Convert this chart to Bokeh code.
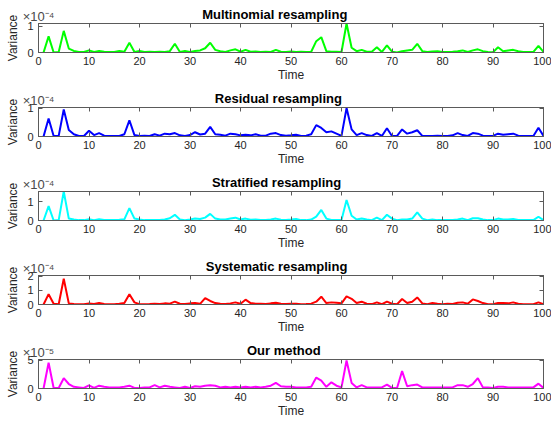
from bokeh.plotting import figure
from bokeh.layouts import column
from bokeh.models import Range1d, FixedTicker, LinearAxis, CustomJSTickFormatter
from bokeh.embed import file_html
from bokeh.resources import INLINE

time = list(range(1, 101))

# values in units of 1e-4 (first four panels) and 1e-5 (last panel)
multinomial = [0, 0.61, 0.0, 0.02, 0.82, 0.15, 0.06, 0.02, 0.02, 0.08,
               0.02, 0.06, 0.03, 0.02, 0.02, 0.06, 0.03, 0.37, 0.02, 0.06,
               0.02, 0.03, 0.02, 0.03, 0.02, 0.05, 0.33, 0.02, 0.06, 0.02,
               0.06, 0.08, 0.16, 0.37, 0.1, 0.05, 0.02, 0.08, 0.12, 0.03,
               0.1, 0.03, 0.04, 0.02, 0.03, 0.02, 0.1, 0.03, 0.02, 0.04,
               0.02, 0.03, 0.02, 0.03, 0.43, 0.58, 0.05, 0.03, 0.03, 0.02,
               1.1, 0.18, 0.05, 0.1, 0.03, 0.03, 0.2, 0.02, 0.27, 0.03,
               0.0, 0.05, 0.08, 0.1, 0.33, 0.05, 0.02, 0.04, 0.05, 0.02,
               0.02, 0.03, 0.05, 0.08, 0.02, 0.08, 0.12, 0.05, 0.02, 0.01,
               0.2, 0.05, 0.08, 0.1, 0.05, 0.02, 0.02, 0.02, 0.25, 0.02]
residual = [0, 0.63, 0.02, 0.02, 0.95, 0.23, 0.08, 0.02, 0.02, 0.2,
            0.05, 0.12, 0.03, 0.02, 0.02, 0.02, 0.08, 0.57, 0.05, 0.02,
            0.03, 0.02, 0.08, 0.03, 0.1, 0.08, 0.12, 0.04, 0.02, 0.05,
            0.15, 0.07, 0.1, 0.34, 0.08, 0.06, 0.03, 0.1, 0.08, 0.04,
            0.06, 0.04, 0.08, 0.03, 0.03, 0.1, 0.12, 0.05, 0.03, 0.04,
            0.06, 0.02, 0.03, 0.08, 0.4, 0.3, 0.15, 0.18, 0.1, 0.02,
            1.0, 0.25, 0.05, 0.12, 0.05, 0.02, 0.12, 0.02, 0.29, 0.02,
            0.02, 0.25, 0.1, 0.15, 0.22, 0.02, 0.02, 0.02, 0.03, 0.02,
            0.02, 0.04, 0.12, 0.05, 0.02, 0.12, 0.1, 0.03, 0.02, 0.02,
            0.1, 0.06, 0.08, 0.1, 0.03, 0.02, 0.02, 0.02, 0.31, 0.02]
stratified = [0, 0.76, 0.0, 0.02, 1.53, 0.1, 0.05, 0.02, 0.02, 0.06,
              0.02, 0.06, 0.03, 0.03, 0.03, 0.04, 0.06, 0.65, 0.1, 0.05,
              0.02, 0.02, 0.02, 0.03, 0.05, 0.12, 0.3, 0.05, 0.02, 0.05,
              0.1, 0.08, 0.15, 0.35, 0.1, 0.05, 0.05, 0.1, 0.15, 0.05,
              0.1, 0.04, 0.05, 0.03, 0.03, 0.05, 0.1, 0.04, 0.03, 0.05,
              0.08, 0.02, 0.02, 0.05, 0.2, 0.56, 0.1, 0.03, 0.02, 0.02,
              1.08, 0.25, 0.05, 0.1, 0.05, 0.02, 0.15, 0.02, 0.3, 0.1,
              0.02, 0.05, 0.05, 0.1, 0.43, 0.1, 0.02, 0.05, 0.02, 0.02,
              0.02, 0.03, 0.05, 0.1, 0.02, 0.12, 0.12, 0.05, 0.02, 0.02,
              0.1, 0.05, 0.05, 0.08, 0.03, 0.02, 0.02, 0.02, 0.2, 0.02]
systematic = [0, 0.73, 0.05, 0.02, 1.82, 0.08, 0.03, 0.02, 0.02, 0.08,
              0.03, 0.1, 0.03, 0.02, 0.02, 0.05, 0.1, 0.73, 0.15, 0.02,
              0.02, 0.03, 0.05, 0.03, 0.08, 0.06, 0.2, 0.05, 0.03, 0.08,
              0.1, 0.05, 0.45, 0.25, 0.1, 0.05, 0.03, 0.08, 0.15, 0.05,
              0.34, 0.1, 0.05, 0.05, 0.03, 0.08, 0.12, 0.05, 0.03, 0.05,
              0.06, 0.02, 0.03, 0.06, 0.2, 0.55, 0.1, 0.15, 0.12, 0.08,
              0.57, 0.4, 0.1, 0.2, 0.05, 0.03, 0.15, 0.02, 0.2, 0.05,
              0.02, 0.39, 0.1, 0.2, 0.5, 0.08, 0.02, 0.1, 0.05, 0.02,
              0.05, 0.03, 0.12, 0.15, 0.05, 0.36, 0.25, 0.1, 0.02, 0.02,
              0.1, 0.1, 0.08, 0.15, 0.05, 0.02, 0.02, 0.02, 0.15, 0.02]
our_method = [0, 4.6, 0.1, 0.1, 1.84, 0.8, 0.3, 0.2, 0.1, 0.57,
              0.1, 0.5, 0.3, 0.2, 0.2, 0.2, 0.3, 0.5, 0.1, 0.1,
              0.2, 0.2, 0.6, 0.2, 0.5, 0.3, 0.2, 0.1, 0.3, 0.1,
              0.4, 0.3, 0.5, 0.6, 0.5, 0.2, 0.3, 0.2, 0.3, 0.2,
              0.3, 0.2, 0.3, 0.2, 0.3, 0.5, 1.0, 0.4, 0.3, 0.3,
              0.2, 0.2, 0.2, 0.3, 1.95, 1.4, 0.3, 1.1, 0.5, 0.2,
              5.0, 1.0, 0.2, 0.6, 0.2, 0.2, 0.2, 0.2, 0.69, 0.1,
              0.1, 3.1, 0.4, 0.6, 0.7, 0.2, 0.2, 0.2, 0.2, 0.2,
              0.2, 0.2, 0.6, 0.6, 0.3, 0.8, 1.84, 0.2, 0.2, 0.1,
              0.3, 0.3, 0.2, 0.2, 0.2, 0.2, 0.2, 0.2, 0.86, 0.1]

titles = ["Multinomial resampling", "Residual resampling", "Stratified resampling",
          "Systematic resampling", "Our method"]
multipliers = ["×10⁻⁴", "×10⁻⁴", "×10⁻⁴", "×10⁻⁴", "×10⁻⁵"]
x_ticks = [0, 10, 20, 30, 40, 50, 60, 70, 80, 90, 100]
y_ticks = [[0, 1], [0, 1], [0, 1], [0, 1, 2], [0, 5]]
y_max = [1.1, 1.02, 1.53, 2.05, 5.17]
title_pad = [9, 7, 8, 8, 4]   # trailing no-break spaces: nudge each centred title left
colors = ["#00ff00", "#0000ff", "#00ffff", "#ff0000", "#ff00ff"]
series = [multinomial, residual, stratified, systematic, our_method]

FONT = "Liberation Sans"
AX = "#5a5a5a"
TXT = "#262626"


def blank_formatter():
    return CustomJSTickFormatter(code="return ''")


figs = []
for i in range(5):
    p = figure(width=551, height=84, output_backend="svg", toolbar_location=None,
               x_range=Range1d(0, 100), y_range=Range1d(0, y_max[i]),
               min_border_left=38, min_border_right=8, min_border_top=23, min_border_bottom=31)
    p.background_fill_color = "white"
    p.border_fill_color = "white"
    p.outline_line_color = AX
    p.xgrid.visible = False
    p.ygrid.visible = False
    p.line(time, series[i], color=colors[i], line_width=2)

    xa = p.xaxis[0]
    xa.ticker = FixedTicker(ticks=x_ticks)
    xa.axis_label = "Time"
    ya = p.yaxis[0]
    ya.ticker = FixedTicker(ticks=y_ticks[i])
    ya.axis_label = "Variance"
    for ax in (xa, ya):
        ax.axis_line_color = AX
        ax.major_tick_line_color = AX
        ax.major_tick_in = 4
        ax.major_tick_out = 0
        ax.minor_tick_line_color = None
        ax.major_label_text_font = FONT
        ax.major_label_text_font_size = "11px"
        ax.major_label_text_color = TXT
        ax.axis_label_text_font = FONT
        ax.axis_label_text_font_size = "12px"
        ax.axis_label_text_font_style = "normal"
        ax.axis_label_text_color = TXT
    xa.major_label_standoff = 4
    xa.axis_label_standoff = 0
    ya.major_label_standoff = 5
    ya.axis_label_standoff = 4

    # top axis: box ticks plus the scale multiplier
    top = LinearAxis(ticker=FixedTicker(ticks=x_ticks), formatter=blank_formatter())
    top.axis_label = multipliers[i]
    top.axis_label_align = "start"
    top.axis_label_standoff = 0
    top.axis_label_text_font = FONT
    top.axis_label_text_font_size = "13px"
    top.axis_label_text_font_style = "normal"
    top.axis_label_text_color = "#4a4a4a"
    right = LinearAxis(ticker=FixedTicker(ticks=y_ticks[i]), formatter=blank_formatter())
    for ax in (top, right):
        ax.axis_line_color = AX
        ax.major_tick_line_color = AX
        ax.major_tick_in = 4
        ax.major_tick_out = 0
        ax.minor_tick_line_color = None
        ax.major_label_standoff = 0
    p.add_layout(top, "above")
    p.add_layout(right, "right")

    # panel title, carried by an invisible axis so it can sit beside the multiplier
    tax = LinearAxis(ticker=FixedTicker(ticks=[]), formatter=blank_formatter())
    tax.axis_line_color = None
    tax.major_tick_line_color = None
    tax.minor_tick_line_color = None
    tax.major_tick_in = 0
    tax.major_tick_out = 0
    tax.major_label_standoff = 0
    tax.axis_label = titles[i] + "\u00a0" * title_pad[i]
    tax.axis_label_align = "center"
    tax.axis_label_standoff = -16
    tax.axis_label_text_font = FONT
    tax.axis_label_text_font_size = "13px"
    tax.axis_label_text_font_style = "bold"
    tax.axis_label_text_color = "#000000"
    p.add_layout(tax, "above")
    figs.append(p)

layout = column(*figs, spacing=0)
open("out.html", "w").write(file_html(layout, INLINE))
